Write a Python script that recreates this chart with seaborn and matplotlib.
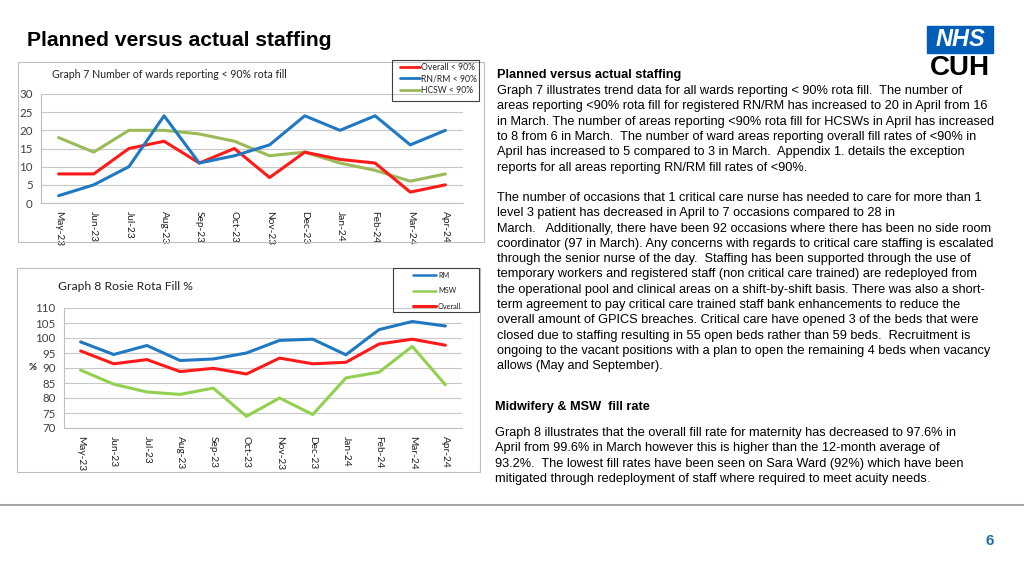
import matplotlib
matplotlib.use("Agg")
import matplotlib.pyplot as plt
import matplotlib.patches as mpatches
from matplotlib.lines import Line2D
import seaborn as sns
import pandas as pd

# ---------------------------------------------------------
# Data
# ---------------------------------------------------------
months = ["May-23", "Jun-23", "Jul-23", "Aug-23", "Sep-23", "Oct-23",
          "Nov-23", "Dec-23", "Jan-24", "Feb-24", "Mar-24", "Apr-24"]

# Graph 7 - number of wards reporting < 90% rota fill
overall_lt90 = [8, 8, 15, 17, 11, 15, 7, 14, 12, 11, 3, 5]
rnrm_lt90 = [2, 5, 10, 24, 11, 13, 16, 24, 20, 24, 16, 20]
hcsw_lt90 = [18, 14, 20, 20, 19, 17, 13, 14, 11, 9, 6, 8]

# Graph 8 - Rosie rota fill %
rm_fill = [98.7, 94.5, 97.5, 92.5, 93.0, 95.0, 99.2, 99.6, 94.4, 102.8, 105.5, 104.0]
msw_fill = [89.3, 84.6, 82.0, 81.2, 83.3, 73.9, 80.0, 74.5, 86.7, 88.6, 97.2, 84.4]
overall_fill = [95.7, 91.4, 92.8, 88.8, 89.9, 88.0, 93.3, 91.4, 91.9, 98.0, 99.6, 97.6]

page_title = "Planned versus actual staffing"
para1_head = "Planned versus actual staffing"
para1 = [
    "Graph 7 illustrates trend data for all wards reporting < 90% rota fill.  The number of",
    "areas reporting <90% rota fill for registered RN/RM has increased to 20 in April from 16",
    "in March. The number of areas reporting <90% rota fill for HCSWs in April has increased",
    "to 8 from 6 in March.  The number of ward areas reporting overall fill rates of <90% in",
    "April has increased to 5 compared to 3 in March.  Appendix 1. details the exception",
    "reports for all areas reporting RN/RM fill rates of <90%.",
]
para2 = [
    "The number of occasions that 1 critical care nurse has needed to care for more than 1",
    "level 3 patient has decreased in April to 7 occasions compared to 28 in",
    "March.   Additionally, there have been 92 occasions where there has been no side room",
    "coordinator (97 in March). Any concerns with regards to critical care staffing is escalated",
    "through the senior nurse of the day.  Staffing has been supported through the use of",
    "temporary workers and registered staff (non critical care trained) are redeployed from",
    "the operational pool and clinical areas on a shift-by-shift basis. There was also a short-",
    "term agreement to pay critical care trained staff bank enhancements to reduce the",
    "overall amount of GPICS breaches. Critical care have opened 3 of the beds that were",
    "closed due to staffing resulting in 55 open beds rather than 59 beds.  Recruitment is",
    "ongoing to the vacant positions with a plan to open the remaining 4 beds when vacancy",
    "allows (May and September).",
]
para3_head = "Midwifery & MSW  fill rate"
para3 = [
    "Graph 8 illustrates that the overall fill rate for maternity has decreased to 97.6% in",
    "April from 99.6% in March however this is higher than the 12-month average of",
    "93.2%.  The lowest fill rates have been seen on Sara Ward (92%) which have been",
    "mitigated through redeployment of staff where required to meet acuity needs",
]

RED = "#ff1a1a"
BLUE = "#1f78c1"
OLIVE = "#9bbb59"
LIME = "#92d050"

sns.set_theme(style="white")
plt.rcParams["font.family"] = ["Lato", "DejaVu Sans"]

W, H = 1024, 576
fig = plt.figure(figsize=(10.24, 5.76), dpi=100)


def fx(px):
    return px / W


def fy(py):
    return 1 - py / H


def frame(x0, y0, x1, y1, color="#bfbfbf"):
    fig.patches.append(mpatches.Rectangle((fx(x0), fy(y1)), fx(x1 - x0), (y1 - y0) / H,
                                          transform=fig.transFigure, fill=False,
                                          edgecolor=color, linewidth=0.8))


def style_axis(ax, lo, hi, step):
    ax.set_xlim(-0.5, 11.5)
    ax.set_ylim(lo, hi)
    ax.set_yticks(range(lo, hi + 1, step))
    ax.grid(axis="y", color="#c8c8c8", linewidth=0.8)
    ax.grid(axis="x", visible=False)
    for s in ["top", "right"]:
        ax.spines[s].set_visible(False)
    for s in ["left", "bottom"]:
        ax.spines[s].set_color("#bfbfbf")
        ax.spines[s].set_linewidth(0.8)
    ax.tick_params(axis="y", length=0, labelsize=8.3, colors="#404040", pad=6)
    ax.tick_params(axis="x", length=0, pad=6)
    ax.set_xticks(range(len(months)))
    ax.set_xticklabels(months, rotation=-90, fontsize=7.3, color="#222222")
    ax.set_xlabel("")
    ax.set_ylabel("")


# ---------------------------------------------------------
# Graph 7
# ---------------------------------------------------------
frame(18, 62, 484, 242)
ax1 = fig.add_axes([fx(41), fy(203), fx(463 - 41), (203 - 94) / H])
df7 = pd.DataFrame({"month": months, "Overall < 90%": overall_lt90,
                    "RN/RM < 90%": rnrm_lt90, "HCSW < 90%": hcsw_lt90})
for col, c in [("HCSW < 90%", OLIVE), ("Overall < 90%", RED), ("RN/RM < 90%", BLUE)]:
    sns.lineplot(data=df7, x="month", y=col, color=c, linewidth=2.2, sort=False, ax=ax1)
style_axis(ax1, 0, 30, 5)
fig.text(fx(52), fy(75), "Graph 7 Number of wards reporting < 90% rota fill",
         fontsize=7.6, color="#222222", va="center")
frame(392, 60, 479, 101, color="#404040")
h7 = [Line2D([], [], color=RED, lw=2), Line2D([], [], color=BLUE, lw=2),
      Line2D([], [], color=OLIVE, lw=2)]
fig.legend(h7, ["Overall < 90%", "RN/RM < 90%", "HCSW < 90%"],
           loc="upper left", bbox_to_anchor=(fx(398), fy(61)),
           fontsize=6.2, frameon=False, handlelength=2.4, handletextpad=0.1,
           labelspacing=0.3, borderpad=0.2, borderaxespad=0)

# ---------------------------------------------------------
# Graph 8
# ---------------------------------------------------------
frame(17, 268, 480, 472)
ax2 = fig.add_axes([fx(64), fy(428), fx(462 - 64), (428 - 308) / H])
df8 = pd.DataFrame({"month": months, "RM": rm_fill, "MSW": msw_fill, "Overall": overall_fill})
for col, c in [("MSW", LIME), ("RM", BLUE), ("Overall", RED)]:
    sns.lineplot(data=df8, x="month", y=col, color=c, linewidth=2.2, sort=False, ax=ax2)
style_axis(ax2, 70, 110, 5)
fig.text(fx(58), fy(287), "Graph 8 Rosie Rota Fill %", fontsize=8.7, color="#222222", va="center")
fig.text(fx(33), fy(367), "%", fontsize=7, color="#222222", va="center", ha="center",
         fontweight="bold")
frame(393, 268, 479, 312, color="#404040")
h8 = [Line2D([], [], color=BLUE, lw=1.8), Line2D([], [], color=LIME, lw=1.8),
      Line2D([], [], color=RED, lw=2.2)]
fig.legend(h8, ["RM", "MSW", "Overall"],
           loc="upper left", bbox_to_anchor=(fx(409), fy(268)),
           fontsize=5.2, frameon=False, handlelength=3.3, handletextpad=0.2,
           labelspacing=1.2, borderpad=0.5, borderaxespad=0)

# ---------------------------------------------------------
# Slide text
# ---------------------------------------------------------
body = ["Liberation Sans", "DejaVu Sans"]
fig.text(fx(27), fy(40), page_title, fontsize=15.2, fontweight="bold", family=body,
         va="center", color="black")

step = 15.3
fig.text(fx(497), fy(75), para1_head, fontsize=9.2, fontweight="bold", family=body,
         va="center", color="black")
for i, line in enumerate(para1):
    fig.text(fx(497), fy(91 + i * step), line, fontsize=9.2, family=body, va="center",
             color="black")
for i, line in enumerate(para2):
    fig.text(fx(497), fy(198 + i * step), line, fontsize=9.2, family=body, va="center",
             color="black")
fig.text(fx(495), fy(407), para3_head, fontsize=9.2, fontweight="bold", family=body,
         va="center", color="black")
for i, line in enumerate(para3):
    t = fig.text(fx(495), fy(433 + i * step), line, fontsize=9.2, family=body, va="center",
                 color="black")
# the final full stop is red on the slide
fig.canvas.draw()
bb = t.get_window_extent()
fig.text(bb.x1 / W, fy(433 + 3 * step), ".", fontsize=9.2, family=body, va="center",
         color="red")

# NHS CUH logo
fig.patches.append(mpatches.Rectangle((fx(927), fy(53)), fx(66), 27 / H,
                                      transform=fig.transFigure, color="#005eb8"))
fig.text(fx(960), fy(40), "NHS", fontsize=17, fontweight="bold", style="italic",
         color="white", family=body, ha="center", va="center")
fig.text(fx(960), fy(68), "CUH", fontsize=20, fontweight="bold", color="black",
         family=body, ha="center", va="center")

# footer
fig.add_artist(Line2D([0, 1], [fy(505), fy(505)], transform=fig.transFigure,
                      color="#a6a6a6", linewidth=1.5))
fig.text(fx(990), fy(541), "6", fontsize=11, fontweight="bold", color="#1f6fa8",
         family=body, ha="center", va="center")

fig.savefig("out.png", dpi=100)
